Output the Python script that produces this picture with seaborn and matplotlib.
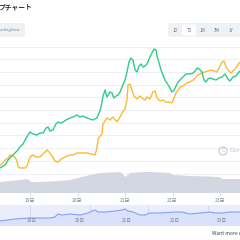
import numpy as np
import pandas as pd
import matplotlib
matplotlib.use("Agg")
import matplotlib.pyplot as plt
from matplotlib.patches import FancyBboxPatch, Circle
import seaborn as sns

# ---------------- data (hours since 18日 00:00, index values) ----------------
green_hours = [8.8, 10.4, 11.4, 12.9, 13.9, 15.4, 16.4, 17.9, 18.9, 20.5, 21.5, 23.0, 24.0, 25.5, 27.5,
               29.0, 30.6, 32.1, 33.1, 34.1, 35.6, 37.1, 38.1, 39.7, 40.7, 42.2, 44.2, 45.7, 47.7, 49.3,
               50.8, 52.8, 54.3, 55.8, 57.8, 58.9, 59.9, 60.9, 61.9, 62.9, 64.4, 65.4, 66.4, 67.5, 68.5,
               69.5, 70.5, 72.0, 73.0, 74.0, 75.0, 76.0, 77.1, 78.1, 79.1, 80.1, 81.1, 82.1, 83.1, 84.6,
               85.6, 86.7, 87.7, 88.2, 89.2, 90.2, 91.2, 92.2, 93.2, 94.7, 95.7, 96.8, 97.8, 98.8, 99.8,
               101.3, 102.8, 104.8, 106.4, 107.4, 108.4, 109.4, 110.9, 111.9, 112.9, 113.9, 114.9, 116.5,
               118.0, 119.5, 121.0, 122.5, 124.0, 125.0, 126.6, 128.1, 129.1, 130.1]
green_vals = [25, 27, 28, 33, 35, 38, 40, 43, 46, 49, 53, 58, 61, 59, 58,
              60, 60, 65, 66, 62, 63, 69, 71, 70, 71, 73, 75, 76, 78, 76,
              77, 75, 74, 73, 75, 80, 86, 97, 103, 96, 101, 100, 95, 97, 98,
              101, 106, 113, 121, 131, 135, 133, 123, 121, 127, 129, 126, 127, 129, 136,
              140, 144, 143, 137, 130, 123, 118, 113, 110, 105, 101, 103, 107, 111, 113,
              116, 119, 119, 120, 122, 125, 124, 121, 113, 111, 114, 115, 114,
              113, 115, 116, 119, 114, 112, 116, 117, 120, 122]

orange_hours = [8.8, 10.4, 11.4, 12.9, 13.9, 15.4, 16.4, 17.4, 17.9, 18.9, 20.5, 21.5, 22.5, 23.5, 24.0,
                25.5, 27.0, 29.0, 30.6, 32.6, 33.6, 35.1, 36.6, 38.1, 39.2, 40.7, 42.7, 44.2, 45.7, 47.7,
                49.3, 51.3, 52.8, 54.8, 56.8, 57.8, 58.4, 59.4, 60.4, 60.9, 61.9, 62.9, 64.4, 65.9, 67.0,
                68.0, 69.5, 70.5, 72.0, 73.0, 73.5, 74.5, 75.5, 76.5, 78.1, 79.6, 81.1, 82.1, 83.1, 84.6,
                86.1, 87.2, 88.2, 89.7, 91.2, 92.7, 94.2, 95.7, 96.8, 97.8, 98.8, 99.8, 101.3, 103.3, 104.8,
                106.4, 107.9, 108.9, 110.9, 112.4, 113.9, 115.5, 117.0, 118.5, 120.0, 121.0, 122.0, 123.0,
                124.0, 125.6, 126.6, 127.6, 128.6, 130.1]
orange_vals = [28, 30, 33, 35, 38, 37, 36, 32, 27, 25, 25, 25, 27, 33, 36,
               38, 36, 36, 39, 43, 41, 37, 32, 31, 33, 35, 37, 38, 38, 40,
               40, 40, 40, 39, 38, 45, 54, 57, 59, 69, 72, 75, 73, 76, 73,
               71, 76, 80, 84, 93, 108, 109, 103, 97, 94, 97, 94, 93, 96, 94,
               101, 102, 95, 92, 93, 91, 91, 90, 95, 100, 103, 106, 107, 110, 111,
               113, 116, 118, 120, 121, 122, 123, 122, 121, 127, 131, 132, 126,
               123, 120, 122, 124, 127, 131]

volume_hours = [8.8, 13.9, 18.9, 22.5, 24.0, 25.0, 29.0, 39.2, 44.2, 48.3, 54.3, 59.4, 64.4, 69.5,
                71.0, 72.0, 73.5, 74.5, 81.1, 86.1, 89.7, 94.7, 96.3, 104.8, 114.9, 120.0, 121.0, 130.1]
volume_vals = [11, 12, 13, 14, 12, 11, 11, 12, 13, 15, 18, 20, 20.5, 21,
               19, 16, 18, 20, 21, 21, 20.5, 20, 18, 17, 16.5, 16, 14, 14]

nav_hours = [8.8, 16.4, 24.0, 34.1, 36.6, 38.1, 40.2, 44.2, 49.3, 53.3, 55.3, 56.8, 58.4, 61.9, 67.0,
             70.5, 72.0, 73.5, 76.0, 79.6, 82.1, 84.6, 89.7, 97.3, 100.8, 104.8, 109.9, 114.9, 117.5,
             121.0, 125.0, 130.1]
nav_vals = [5, 7, 8, 8, 9, 12, 11, 12, 11, 13, 15, 16, 14, 14, 15,
            16, 17, 15, 14, 11, 11, 13, 13, 14, 14, 12, 13, 14, 13,
            13, 14, 14]

day_ticks = [24, 48, 72, 96, 120]
day_labels = ["19日", "20日", "21日", "22日", "23日"]
range_buttons = ["1D", "7D", "1M", "3M", "1Y"]

# ---------------- style ----------------
sns.set_theme(style="white")
plt.rcParams["font.family"] = ["Noto Sans CJK JP", "DejaVu Sans"]

GREEN = "#2fca8c"
ORANGE = "#fdb933"
VOL = "#d2d7e1"
GRID = "#eef0f4"
TXT = "#7d8596"

W = H = 240.0
def fx(px):
    return px / W
def fy(py):
    return 1 - py / H

fig = plt.figure(figsize=(2.4, 2.4), dpi=100)
fig.patch.set_facecolor("white")

XLIM = (8.84, 130.1)

# main chart
ax = fig.add_axes([0, fy(193), 1, (193 - 40) / H])
ax.set_xlim(*XLIM)
ax.set_ylim(0, 153)
ax.set_axisbelow(True)
ax.set_yticks(np.arange(19.5, 150, 12.7))
ax.yaxis.grid(True, color=GRID, linewidth=0.7)
ax.tick_params(axis="y", left=False, labelleft=False)
for s in ax.spines.values():
    s.set_visible(False)

ax.fill_between(volume_hours, 0, volume_vals, color=VOL, linewidth=0, zorder=1.5)

df_g = pd.DataFrame({"h": green_hours, "v": green_vals})
df_o = pd.DataFrame({"h": orange_hours, "v": orange_vals})
sns.lineplot(data=df_o, x="h", y="v", ax=ax, color=ORANGE, linewidth=1.0,
             estimator=None, sort=False, zorder=3)
sns.lineplot(data=df_g, x="h", y="v", ax=ax, color=GREEN, linewidth=1.0,
             estimator=None, sort=False, zorder=3)
ax.set_xlabel("")
ax.set_ylabel("")
ax.set_xticks(day_ticks)
ax.set_xticklabels(day_labels)
ax.tick_params(axis="x", bottom=True, length=2.5, width=0.5, color="#c6ccd6",
               labelsize=3.6, labelcolor=TXT, pad=1.2)

# navigator
axn = fig.add_axes([0, fy(226), 1, 21 / H])
axn.set_xlim(*XLIM)
axn.set_ylim(0, 21)
axn.set_facecolor("#e9edfc")
for s in axn.spines.values():
    s.set_visible(False)
axn.set_xticks([])
axn.set_yticks([])
for hx in [24.0, 54.3, 83.6, 113.9]:
    axn.axvline(hx, color="#cdd5f3", linewidth=0.5, zorder=1)
axn.fill_between(nav_hours, 0, nav_vals, color="#d9e1fb", linewidth=0, zorder=1.5)
sns.lineplot(x=nav_hours, y=nav_vals, ax=axn, color="#86a2f3", linewidth=0.8,
             estimator=None, sort=False, zorder=2)
for hx, lab in zip(day_ticks, day_labels):
    axn.text(hx + 1, 6, lab, ha="center", va="center", fontsize=3.4, color=TXT, zorder=3)

# header: title
fig.text(fx(32), fy(6.5), "プチャート", ha="right", va="center", fontsize=4.9,
         fontweight="bold", color="#2d3440")

# TradingView button
fig.patches.append(FancyBboxPatch((fx(-6), fy(37)), fx(31), fx(14),
                                  boxstyle="round,pad=0,rounding_size=0.012",
                                  transform=fig.transFigure, facecolor="#eff2f5",
                                  edgecolor="none"))
fig.text(fx(20.5), fy(29.5), "TradingView", ha="right", va="center", fontsize=2.9, color=TXT)

# range buttons
fig.patches.append(FancyBboxPatch((fx(168), fy(37)), fx(80), fx(14),
                                  boxstyle="round,pad=0,rounding_size=0.012",
                                  transform=fig.transFigure, facecolor="#eff2f5",
                                  edgecolor="none"))
fig.patches.append(FancyBboxPatch((fx(182), fy(35.5)), fx(14), fx(11),
                                  boxstyle="round,pad=0,rounding_size=0.01",
                                  transform=fig.transFigure, facecolor="white",
                                  edgecolor="none"))
for bx, lab in zip([175.5, 189, 202.5, 217, 231], range_buttons):
    fig.text(fx(bx), fy(30), lab, ha="center", va="center", fontsize=3.1, color="#6b7386")

# watermark
fig.patches.append(Circle((fx(223), fy(151)), fx(4), transform=fig.transFigure,
                          facecolor="none", edgecolor="#bcc3ce", linewidth=0.7))
fig.text(fx(223), fy(151), "G", ha="center", va="center", fontsize=3.2, color="#bcc3ce")
fig.text(fx(229.5), fy(151), "CoinGecko", ha="left", va="center", fontsize=4.2, color="#bcc3ce")

# footer
fig.text(fx(212), fy(233.5), "Want more data?", ha="left", va="center", fontsize=3.6, color="#3a4150")

fig.savefig("out.png", dpi=100)
